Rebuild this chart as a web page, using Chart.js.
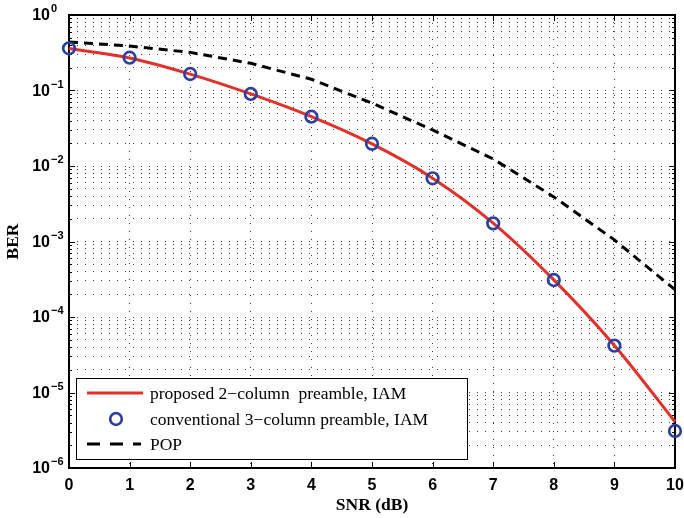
<!DOCTYPE html>
<html>
<head>
<meta charset="utf-8">
<script src="https://cdn.jsdelivr.net/npm/chart.js@4.4.0/dist/chart.umd.min.js"></script>
<style>
  html, body { margin: 0; padding: 0; background: #fff; }
</style>
</head>
<body>
<canvas id="berChart" width="684" height="518"></canvas>
<script>
// SNR axis (dB)
const snrDb = [0, 1, 2, 3, 4, 5, 6, 7, 8, 9, 10];

// BER curves
const proposedBer = [0.36, 0.27, 0.165, 0.090, 0.045, 0.0196, 0.0069, 0.00175, 3.1e-4, 4.2e-5, 4.1e-6];
const conventionalBer = [0.362, 0.272, 0.1655, 0.090, 0.045, 0.0197, 0.00687, 0.00174, 3.09e-4, 4.17e-5, 3.09e-6];
const popBer = [0.44, 0.388, 0.32, 0.229, 0.141, 0.068, 0.030, 0.0124, 0.0039, 0.00105, 2.3e-4];

const seriesLabels = [
  'proposed 2\u2212column  preamble, IAM',
  'conventional 3\u2212column preamble, IAM',
  'POP'
];

// y axis decades and the log minor steps inside each decade
const berExponents = [-6, -5, -4, -3, -2, -1, 0];
const minorSteps = [1, 2, 3, 4, 5, 6, 7, 8, 9];

const RED = '#e2302a';
const BLUE = '#2d3f9f';
const SANS = '"Liberation Sans", Arial, sans-serif';
const SERIF = '"Liberation Serif", "Times New Roman", serif';

const toPoints = (ys) => snrDb.map((x, i) => ({ x: x, y: ys[i] }));

// frame + inward tick marks + y labels with superscript exponents (matlab look)
const axesPlugin = {
  id: 'matlabAxes',
  beforeDatasetsDraw(chart) {
    const { ctx, chartArea: a } = chart;
    const xs = chart.scales.x, ys = chart.scales.y;
    ctx.save();
    ctx.strokeStyle = '#000';
    ctx.lineWidth = 1;
    ctx.beginPath();
    for (const t of xs.ticks) {
      const px = Math.round(xs.getPixelForValue(t.value)) + 0.5;
      ctx.moveTo(px, a.bottom); ctx.lineTo(px, a.bottom - 6);
      ctx.moveTo(px, a.top); ctx.lineTo(px, a.top + 6);
    }
    for (const t of ys.ticks) {
      const py = Math.round(ys.getPixelForValue(t.value)) + 0.5;
      const len = t.major ? 6 : 3;
      ctx.moveTo(a.left, py); ctx.lineTo(a.left + len, py);
      ctx.moveTo(a.right, py); ctx.lineTo(a.right - len, py);
    }
    ctx.stroke();
    ctx.lineWidth = 2;
    ctx.strokeRect(a.left, a.top, a.right - a.left, a.bottom - a.top);

    ctx.fillStyle = '#000';
    for (const t of ys.ticks) {
      if (!t.major) continue;
      const py = ys.getPixelForValue(t.value);
      const e = Math.round(Math.log10(t.value));
      ctx.font = 'bold 16px ' + SANS;
      ctx.textAlign = 'right';
      ctx.textBaseline = 'middle';
      ctx.fillText('10', a.left - 19, py + 1);
      ctx.font = 'bold 11px ' + SANS;
      ctx.textAlign = 'left';
      ctx.textBaseline = 'alphabetic';
      ctx.fillText(e === 0 ? '0' : '\u2212' + Math.abs(e), a.left - 18, py - 3);
    }
    ctx.restore();
  }
};

// boxed legend in the lower left corner
const legendPlugin = {
  id: 'boxLegend',
  afterDraw(chart) {
    const { ctx, chartArea: a } = chart;
    const left = a.left + 7, top = a.bottom - 90, w = 391, h = 81;
    ctx.save();
    ctx.fillStyle = '#fff';
    ctx.fillRect(left, top, w, h);
    ctx.strokeStyle = '#000';
    ctx.lineWidth = 1;
    ctx.strokeRect(left + 0.5, top + 0.5, w, h);

    const rowY = [top + 15, top + 41, top + 66];
    const ds = chart.data.datasets;
    // red solid line
    ctx.strokeStyle = ds[0].borderColor;
    ctx.lineWidth = ds[0].borderWidth;
    ctx.beginPath(); ctx.moveTo(left + 11, rowY[0]); ctx.lineTo(left + 67, rowY[0]); ctx.stroke();
    // blue circle marker
    ctx.strokeStyle = ds[1].pointBorderColor;
    ctx.lineWidth = ds[1].pointBorderWidth;
    ctx.beginPath(); ctx.arc(left + 40, rowY[1], ds[1].pointRadius, 0, Math.PI * 2); ctx.stroke();
    // black dashed line
    ctx.strokeStyle = ds[2].borderColor;
    ctx.lineWidth = ds[2].borderWidth;
    ctx.setLineDash([13, 10]);
    ctx.beginPath(); ctx.moveTo(left + 11, rowY[2]); ctx.lineTo(left + 65, rowY[2]); ctx.stroke();
    ctx.setLineDash([]);

    ctx.fillStyle = '#000';
    ctx.font = '17.5px ' + SERIF;
    ctx.textAlign = 'left';
    ctx.textBaseline = 'middle';
    ds.forEach((d, i) => ctx.fillText(d.label, left + 74, rowY[i] + 1));
    ctx.restore();
  }
};

const gridDots = 'rgba(0,0,0,0.75)';

new Chart(document.getElementById('berChart'), {
  type: 'line',
  data: {
    datasets: [
      {
        label: seriesLabels[0],
        data: toPoints(proposedBer),
        borderColor: RED,
        borderWidth: 3,
        pointRadius: 0,
        cubicInterpolationMode: 'monotone',
        fill: false,
        clip: false,
        order: 1
      },
      {
        label: seriesLabels[1],
        data: toPoints(conventionalBer),
        showLine: false,
        pointRadius: 5.8,
        pointBorderWidth: 2.7,
        pointBorderColor: BLUE,
        pointBackgroundColor: 'rgba(0,0,0,0)',
        borderColor: BLUE,
        clip: false,
        order: 0
      },
      {
        label: seriesLabels[2],
        data: toPoints(popBer),
        borderColor: '#000',
        borderWidth: 3,
        borderDash: [9, 6],
        pointRadius: 0,
        tension: 0,
        fill: false,
        clip: false,
        order: 2
      }
    ]
  },
  options: {
    responsive: false,
    animation: false,
    devicePixelRatio: 1,
    layout: { padding: { top: 15, right: 0, left: 0, bottom: 0 } },
    plugins: {
      legend: { display: false },
      tooltip: { enabled: false }
    },
    scales: {
      x: {
        type: 'linear',
        min: 0,
        max: 10,
        ticks: {
          stepSize: 1,
          color: '#000',
          padding: 8,
          font: { family: SANS, size: 16, weight: 'bold' }
        },
        grid: { color: gridDots, lineWidth: 1, drawTicks: false },
        border: { display: false, dash: [1, 7] },
        title: {
          display: true,
          text: 'SNR (dB)',
          color: '#000',
          font: { family: SERIF, size: 17.5, weight: 'bold' },
          padding: { top: 0, bottom: 2 }
        },
        afterFit: (scale) => {
          scale.height = 50;
          scale.paddingRight = 9;
        }
      },
      y: {
        type: 'logarithmic',
        min: 1e-6,
        max: 1,
        ticks: { display: false },
        grid: { color: gridDots, lineWidth: 1, drawTicks: false },
        border: { display: false, dash: [1, 7] },
        title: {
          display: true,
          text: 'BER',
          color: '#000',
          font: { family: SERIF, size: 17.5, weight: 'bold' },
          padding: { top: 3, bottom: 0 }
        },
        afterBuildTicks: (scale) => {
          const ticks = [];
          for (const e of berExponents) {
            for (const m of minorSteps) {
              const v = m * Math.pow(10, e);
              if (v <= 1) ticks.push({ value: v, major: m === 1 });
            }
          }
          scale.ticks = ticks;
        },
        afterFit: (scale) => { scale.width = 69; }
      }
    }
  },
  plugins: [axesPlugin, legendPlugin]
});
</script>
</body>
</html>
